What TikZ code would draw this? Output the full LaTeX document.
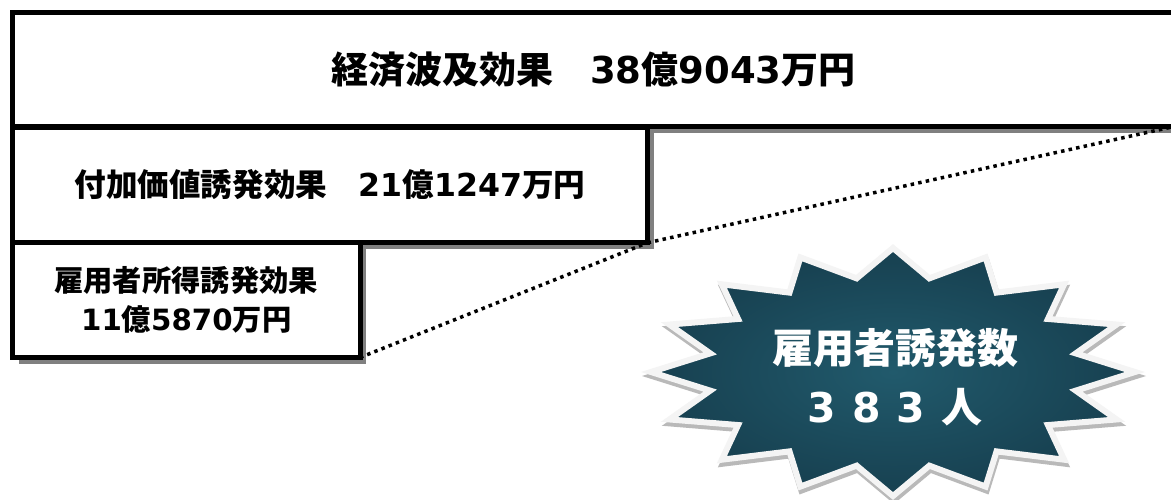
\documentclass[tikz,border=0pt]{standalone}
\usepackage{fontspec}
\setmainfont{Noto Sans CJK JP}
\newfontfamily\dvfont{DejaVu Sans}
\newcommand\dg[1]{{\dvfont\bfseries #1}}
\usetikzlibrary{shadows}
\definecolor{shadowgray}{RGB}{128,128,128}
\definecolor{burstin}{RGB}{33,90,108}
\definecolor{burstout}{RGB}{23,64,80}
\definecolor{burstrim}{RGB}{244,244,244}
\definecolor{burstshadow}{RGB}{185,185,185}
\tikzset{
  box/.style={draw=black, fill=white, line width=5pt, inner sep=0pt, outer sep=0pt,
    align=center, font=\bfseries,
    drop shadow={shadow xshift=6pt, shadow yshift=-6pt, fill=shadowgray, opacity=1}},
  link/.style={line width=3.5pt, dash pattern=on 3.5pt off 4.2pt},
  bursttext/.style={text=white, font=\bfseries, align=center, inner sep=0pt}
}
\newcommand\burstpath{(893,248) \foreach \i in {1,...,31}{ -- ({893+242*(mod(\i,2)==0?1:0.77)*cos(90+11.25*\i)},{372-124*(mod(\i,2)==0?1:0.77)*sin(90+11.25*\i)})} -- cycle}
\begin{document}
\begin{tikzpicture}[x=1pt,y=-1pt]
\clip (0,0) rectangle (1171,499);
\fill[white] (0,0) rectangle (1171,499);
% boxes
\node[box, minimum width=1161.5pt, minimum height=114pt, font=\fontsize{37}{40}\selectfont\bfseries]
  (total) at (593.25,69.5) {経済波及効果　\dg{38}億\dg{9043}万円};
\node[box, minimum width=635pt, minimum height=115.5pt, font=\fontsize{31.6}{34}\selectfont\bfseries]
  (value) at (330,185) {付加価値誘発効果　\dg{21}億\dg{1247}万円};
\node[box, minimum width=347.5pt, minimum height=115.5pt, font=\fontsize{29.3}{39}\selectfont\bfseries]
  (wage) at (186.25,299.75) {雇用者所得誘発効果\\\dg{11}億\dg{5870}万円};
% dotted connectors
\draw[link] (wage.south east) -- (value.south east);
\draw[link] (value.south east) -- (total.south east);
% starburst
\draw[burstshadow, line width=6pt, line join=miter, shift={(1,4)}] \burstpath;
\shadedraw[inner color=burstin, outer color=burstout, draw=burstrim, line width=6pt, line join=miter] \burstpath;
\node[bursttext, font=\fontsize{41}{59}\selectfont\bfseries] (count) at (895,377.5)
  {雇用者誘発数\\\dg{3}\hspace{0.38em}\dg{8}\hspace{0.38em}\dg{3}\hspace{0.4em}人};
\end{tikzpicture}
\end{document}
